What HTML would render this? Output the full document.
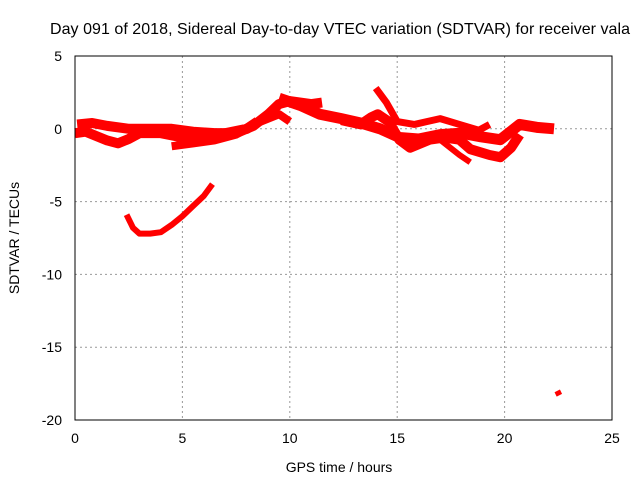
<!DOCTYPE html>
<html><head><meta charset="utf-8"><style>
body{margin:0;background:#fff}
svg{display:block;font-family:"Liberation Sans",sans-serif;font-size:14px}
</style></head><body>
<svg id="c" width="640" height="480">
<text x="340" y="34" text-anchor="middle" font-size="16" textLength="580">Day 091 of 2018, Sidereal Day-to-day VTEC variation (SDTVAR) for receiver vala</text>
<text x="339" y="472" text-anchor="middle">GPS time / hours</text>
<text transform="translate(19,238) rotate(-90)" text-anchor="middle">SDTVAR / TECUs</text>
<g id="grid"></g><g id="series"></g>
<rect x="75" y="56" width="537" height="364" fill="none" stroke="#000"/>
</svg>
<script>
const xTicks=[0,5,10,15,20,25];
const yTicks=[5,0,-5,-10,-15,-20];
const s1h=[0.1,0.8,1.5,2.5,3.5,4.5,5.5,6.5,7.5,8.3,9,9.5,10,10.5,11,11.5];
const s1v=[0.3,0.4,0.2,0,0,0,-0.2,-0.3,-0.3,0.2,1,1.7,1.9,1.8,1.7,1.8];
const s2h=[0,0.5,1,1.5,2,2.5,3,4,5,6,7,8,8.5];
const s2v=[-0.3,-0.2,-0.5,-0.8,-1,-0.7,-0.3,-0.3,-0.6,-0.5,-0.3,0,0.5];
const s3h=[4.5,5.5,6.5,7.5,8.5,9.5,10];
const s3v=[-1.2,-1,-0.8,-0.4,0.4,1,0.5];
const s4h=[9.5,10.5,11.4,12.4,13.3,14.2,15.1,16,17,18,18.9,19.8,20.7,21.5,22.3];
const s4v=[2.1,1.6,1,0.7,0.4,0,-0.6,-0.7,-0.4,-0.3,-0.55,-0.75,0.3,0.1,0];
const s5h=[12.4,13.3,13.8,14.1,14.6,15.1,15.6,16.5,17.2,17.9,18.4,19.3,19.8,20.3,20.7];
const s5v=[0.6,0.3,0.8,1,0.5,-0.75,-1.3,-0.75,-0.6,-0.75,-1.4,-1.8,-1.95,-1.3,-0.4];
const s6h=[17,17.9,18.4];
const s6v=[-0.75,-1.8,-2.3];
const s7h=[14,14.5,15,15.8,16.4,17,17.9,18.8,19.3];
const s7v=[2.8,1.8,0.5,0.3,0.5,0.7,0.3,-0.1,0.3];
const s8h=[2.4,2.7,3,3.5,4,4.5,5,5.5,6,6.4];
const s8v=[-5.9,-6.8,-7.2,-7.2,-7.1,-6.6,-6,-5.3,-4.6,-3.8];
const s9h=[22.45,22.55];
const s9v=[-18,-18.3];
const X=h=>75+h*537/25, Y=v=>56+(5-v)*364/25;
const NS="http://www.w3.org/2000/svg";
const g=document.getElementById('grid');
xTicks.forEach(t=>{
 if(t>0&&t<25){const l=document.createElementNS(NS,'line');l.setAttribute('x1',X(t));l.setAttribute('x2',X(t));l.setAttribute('y1',56);l.setAttribute('y2',420);l.setAttribute('stroke','#999');l.setAttribute('stroke-dasharray','2,3');
 
 g.appendChild(l);}
 const tx=document.createElementNS(NS,'text');tx.setAttribute('x',X(t));tx.setAttribute('y',443);tx.setAttribute('text-anchor','middle');tx.textContent=t;
 
 g.appendChild(tx);
});
yTicks.forEach(t=>{
 if(t<5&&t>-20){const l=document.createElementNS(NS,'line');l.setAttribute('x1',75);l.setAttribute('x2',612);l.setAttribute('y1',Y(t));l.setAttribute('y2',Y(t));l.setAttribute('stroke','#999');l.setAttribute('stroke-dasharray','2,3');
 
 g.appendChild(l);}
 const tx=document.createElementNS(NS,'text');tx.setAttribute('x',62);tx.setAttribute('y',Y(t)+5);tx.setAttribute('text-anchor','end');tx.textContent=t;
 
 g.appendChild(tx);
});
const sg=document.getElementById('series');
[[s1h,s1v,10],[s2h,s2v,10],[s3h,s3v,8],[s4h,s4v,11],[s5h,s5v,10],[s6h,s6v,6],[s7h,s7v,7],[s8h,s8v,6],[s9h,s9v,6]].forEach((s,i)=>{
 const p=document.createElementNS(NS,'polyline');
 p.setAttribute('points',s[0].map((h,j)=>X(h)+','+Y(s[1][j])).join(' '));
 p.setAttribute('fill','none');p.setAttribute('stroke','#f00');p.setAttribute('stroke-width',s[2]);p.setAttribute('stroke-linejoin','round');
 
 
 sg.appendChild(p);
});
</script>
</body></html>
